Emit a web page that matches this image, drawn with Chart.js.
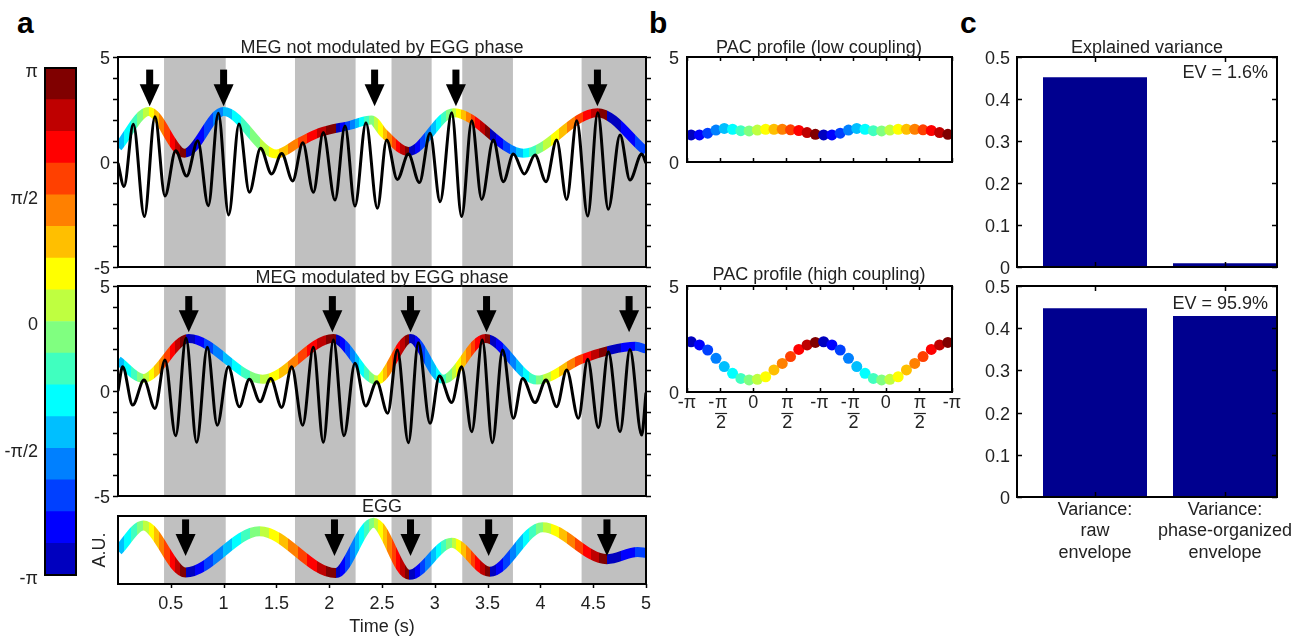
<!DOCTYPE html>
<html>
<head>
<meta charset="utf-8">
<title>EGG phase / MEG amplitude coupling</title>
<script src="https://cdn.jsdelivr.net/npm/chart.js@4.4.1/dist/chart.umd.min.js"></script>
<style>
  body { margin: 0; width: 1309px; height: 637px; position: relative; overflow: hidden; background: #fff;
         font-family: "Liberation Sans", Arial, sans-serif; color: #222; }
  canvas { position: absolute; }
  .label { position: absolute; font-size: 18px; line-height: 18px; white-space: nowrap; }
  .center { transform: translateX(-50%); }
  .right { transform: translateX(-100%); }
  .panel { position: absolute; font-size: 30px; line-height: 30px; font-weight: bold; color: #000; }
</style>
</head>
<body>
<canvas id="colorbar" width="86" height="531" style="left:0px;top:56px"></canvas>
<canvas id="megFlat" width="580" height="234" style="left:78px;top:45px"></canvas>
<canvas id="megCoupled" width="580" height="234" style="left:78px;top:274px"></canvas>
<canvas id="egg" width="580" height="134" style="left:78px;top:504px"></canvas>
<canvas id="pacLow" width="307" height="129" style="left:657px;top:45px"></canvas>
<canvas id="pacHigh" width="307" height="162" style="left:657px;top:274px"></canvas>
<canvas id="varLow" width="340" height="234" style="left:967px;top:45px"></canvas>
<canvas id="varHigh" width="340" height="303" style="left:967px;top:274px"></canvas>

<div class="panel" style="left:17px;top:8px">a</div>
<div class="panel" style="left:649px;top:8px">b</div>
<div class="panel" style="left:960px;top:8px">c</div>
<div class="label center" style="left:382px;top:38px">MEG not modulated by EGG phase</div>
<div class="label center" style="left:382px;top:268px">MEG modulated by EGG phase</div>
<div class="label center" style="left:382px;top:497px">EGG</div>
<div class="label center" style="left:819px;top:38px">PAC profile (low coupling)</div>
<div class="label center" style="left:819px;top:265px">PAC profile (high coupling)</div>
<div class="label center" style="left:1147px;top:38px">Explained variance</div>
<div class="label right" style="left:1268px;top:63px">EV = 1.6%</div>
<div class="label right" style="left:1268px;top:294px">EV = 95.9%</div>

<script>
const PI = Math.PI;

// jet colormap, 16 steps from -pi (dark blue) to pi (dark red)
const jet16 = ['#0000bf', '#0000ff', '#0040ff', '#0080ff', '#00bfff', '#00ffff', '#40ffbf', '#80ff80',
               '#bfff40', '#ffff00', '#ffbf00', '#ff8000', '#ff4000', '#ff0000', '#bf0000', '#800000'];
const phaseTickValues = [-PI, -PI / 2, 0, PI / 2, PI];
const phaseTickLabels = ['-π', '-π/2', '0', 'π/2', 'π'];

// MEG not modulated by EGG phase (black trace = extrema, envelope = coloured)
const flatTimes = [0, 0.057, 0.145, 0.25, 0.35, 0.445, 0.546, 0.65, 0.755, 0.855, 0.95, 1.048, 1.146, 1.244, 1.35, 1.455, 1.55, 1.654, 1.75, 1.85,
                   1.944, 2.055, 2.15, 2.244, 2.348, 2.456, 2.544, 2.645, 2.75, 2.854, 2.955, 3.05, 3.16, 3.254, 3.35, 3.444, 3.554, 3.649, 3.744, 3.848,
                   3.949, 4.053, 4.154, 4.249, 4.344, 4.448, 4.543, 4.643, 4.754, 4.848, 4.959, 5.0];
const flatValues = [-0.05, -1.17, 1.8, -2.6, 2.16, -1.62, 0.54, -0.67, 1.01, -2.08, 2.32, -2.52, 1.81, -1.44, 0.65, -0.57, 0.41, -0.9, 0.92, -1.44,
                    1.4, -1.81, 1.71, -2.1, 1.87, -2.2, 1.05, -0.83, 0.38, -0.98, 1.37, -1.89, 2.35, -2.6, 1.97, -1.78, 1.05, -0.94, 0.38, -0.57,
                    0.33, -0.94, 1.05, -1.78, 1.97, -2.57, 2.35, -2.25, 1.29, -0.86, 0.38, -0.05];
const flatEnvTimes = [0, 0.29, 0.63, 1.0, 1.5, 1.72, 1.91, 2.2, 2.4, 2.52, 2.75, 3.18, 3.84, 4.54, 5.0];
const flatEnvValues = [0.7, 2.4, 0.42, 2.4, 0.38, 0.95, 1.4, 1.75, 2.0, 1.35, 0.5, 2.35, 0.42, 2.35, 0.5];
const flatArrows = [0.3, 1.0, 2.43, 3.2, 4.54];

// MEG modulated by EGG phase
const coupledTimes = [0, 0.044, 0.139, 0.246, 0.35, 0.445, 0.546, 0.644, 0.745, 0.846, 0.94, 1.045, 1.149, 1.244, 1.345, 1.446, 1.55, 1.645, 1.749, 1.85,
                      1.944, 2.04, 2.14, 2.244, 2.345, 2.45, 2.554, 2.645, 2.75, 2.844, 2.955, 3.043, 3.16, 3.254, 3.35, 3.45, 3.545, 3.643, 3.744, 3.832,
                      3.949, 4.053, 4.154, 4.249, 4.36, 4.448, 4.549, 4.643, 4.754, 4.848, 4.959, 5.0];
const coupledValues = [0.0, 1.16, -0.67, 0.52, -0.83, 1.48, -2.13, 2.51, -2.44, 2.08, -1.63, 1.16, -0.75, 0.56, -0.51, 0.6, -0.78, 1.16, -1.63, 2.08,
                       -2.44, 2.43, -2.13, 1.32, -0.71, 0.44, -1.06, 1.95, -2.46, 2.3, -1.54, 0.71, -0.55, 1.16, -1.94, 2.43, -2.46, 1.95, -1.3, 0.6,
                       -0.55, 0.52, -0.75, 1.0, -1.3, 1.51, -1.75, 1.87, -1.94, 1.98, -2.1, -0.08];
const coupledEnvTimes = [0, 0.24, 0.67, 1.37, 2.04, 2.45, 2.77, 3.08, 3.48, 3.97, 4.38, 4.66, 4.9, 5.0];
const coupledEnvValues = [1.45, 0.6, 2.5, 0.56, 2.5, 0.52, 2.5, 0.56, 2.5, 0.52, 1.5, 1.95, 2.13, 2.0];
const coupledArrows = [0.67, 2.03, 2.77, 3.49, 4.84];

// EGG trace and its phase (in units of pi, unwrapped) at peaks / troughs
const eggTimes = [0, 0.24, 0.64, 1.34, 2.06, 2.42, 2.76, 3.16, 3.52, 4.02, 4.63, 4.92, 5.0];
const eggValues = [-0.02, 0.72, -0.66, 0.55, -0.68, 0.8, -0.73, 0.21, -0.64, 0.67, -0.27, -0.06, -0.08];
const phaseTimes = [0, 0.24, 0.64, 1.34, 2.06, 2.42, 2.76, 3.16, 3.52, 4.02, 4.63, 5.0];
const phaseTurns = [-0.5, 0, 1, 2, 3, 4, 5, 6, 7, 8, 9, 9.35];
const eggArrows = [0.64, 2.05, 2.77, 3.51, 4.63];
const eggTickValues = [0.5, 1, 1.5, 2, 2.5, 3, 3.5, 4, 4.5, 5];

// grey bands around EGG troughs
const bandStarts = [0.436, 1.676, 2.59, 3.26, 4.39];
const bandEnds = [1.02, 2.25, 2.97, 3.74, 5.0];

// PAC profiles, 16 phase bins (repeated for the second cycle)
const pacLowValues = [1.29, 1.29, 1.37, 1.52, 1.6, 1.56, 1.49, 1.48, 1.52, 1.56, 1.56, 1.56, 1.53, 1.5, 1.4, 1.32];
const pacHighValues = [2.37, 2.22, 1.98, 1.59, 1.2, 0.88, 0.64, 0.57, 0.6, 0.72, 1.04, 1.35, 1.67, 2.01, 2.22, 2.34];
const pacTickValues = [-PI, -PI / 2, 0, PI / 2, PI, 3 * PI / 2, 2 * PI, 5 * PI / 2, 3 * PI];
const pacTickLabels = ['-π', '-π/2', '0', 'π/2', '-π', '-π/2', '0', 'π/2', '-π'];

// explained variance
const varianceLabels = [['Variance:', 'raw', 'envelope'], ['Variance:', 'phase-organized', 'envelope']];
const varianceLow = [0.452, 0.0088];
const varianceHigh = [0.447, 0.429];

Chart.defaults.font.family = '"Liberation Sans", Arial, sans-serif';
Chart.defaults.font.size = 18;
Chart.defaults.color = '#222';

function points(xs, ys)
{
    return xs.map((x, i) => ({x: x, y: ys[i]}));
}

// pin an axis to a fixed size and stop its labels from pushing the plot area
function fixSize(w, h)
{
    return s =>
    {
        if(w !== null) s.width = w;
        if(h !== null) s.height = h;
        s.paddingTop = 0;
        s.paddingBottom = 0;
        s.paddingLeft = 0;
        s.paddingRight = 0;
    };
}

function phaseAt(t)
{
    for(let i = 0; i < phaseTimes.length - 1; i++)
    {
        if(t <= phaseTimes[i + 1])
        {
            const f = (t - phaseTimes[i]) / (phaseTimes[i + 1] - phaseTimes[i]);
            return phaseTurns[i] + f * (phaseTurns[i + 1] - phaseTurns[i]);
        }
    }
    return phaseTurns[phaseTurns.length - 1];
}

function levelColor(p)
{
    const w = ((p + 1) % 2 + 2) % 2;
    return jet16[Math.min(15, Math.floor(w * 8))];
}

// stepped jet gradient along time, coloured by EGG phase
function phaseGradient(context)
{
    const chart = context.chart;
    const xs = chart.scales.x;
    if(!chart.chartArea || !xs)
    {
        return '#888';
    }
    const t0 = xs.min, t1 = xs.max;
    const g = chart.ctx.createLinearGradient(xs.getPixelForValue(t0), 0, xs.getPixelForValue(t1), 0);
    const cuts = [t0, t1];
    for(let i = 0; i < phaseTimes.length - 1; i++)
    {
        const pa = phaseTurns[i], pb = phaseTurns[i + 1];
        for(let m = Math.ceil(pa * 8); m <= Math.floor(pb * 8); m++)
        {
            cuts.push(phaseTimes[i] + (m / 8 - pa) / (pb - pa) * (phaseTimes[i + 1] - phaseTimes[i]));
        }
    }
    cuts.sort((a, b) => a - b);
    const pos = t => Math.min(1, Math.max(0, (t - t0) / (t1 - t0)));
    for(let j = 0; j < cuts.length - 1; j++)
    {
        if(cuts[j + 1] - cuts[j] < 1e-6) continue;
        const c = levelColor(phaseAt((cuts[j] + cuts[j + 1]) / 2));
        g.addColorStop(pos(cuts[j]), c);
        g.addColorStop(pos(cuts[j + 1]), c);
    }
    return g;
}

const framePlugin =
{
    id: 'frame',
    afterDraw(chart, args, opts)
    {
        const {ctx, chartArea: a, scales} = chart;
        ctx.save();
        ctx.strokeStyle = '#000';
        ctx.lineWidth = 2;
        ctx.strokeRect(a.left, a.top, a.right - a.left, a.bottom - a.top);
        const s = opts.dir === 'in' ? 1 : -1;
        const len = opts.len || 5;
        ctx.lineWidth = 1.5;
        ctx.beginPath();
        (opts.yTicks || []).forEach(v =>
        {
            const y = Math.round(scales.y.getPixelForValue(v)) + 0.5;
            ctx.moveTo(a.left, y); ctx.lineTo(a.left + s * len, y);
            ctx.moveTo(a.right, y); ctx.lineTo(a.right - s * len, y);
        });
        (opts.xTicks || []).forEach(v =>
        {
            const x = Math.round(scales.x.getPixelForValue(v)) + 0.5;
            ctx.moveTo(x, a.bottom); ctx.lineTo(x, a.bottom - s * len);
            if(!opts.bottomOnly)
            {
                ctx.moveTo(x, a.top); ctx.lineTo(x, a.top + s * len);
            }
        });
        ctx.stroke();
        ctx.restore();
    }
};

const bandsPlugin =
{
    id: 'bands',
    beforeDatasetsDraw(chart)
    {
        const {ctx, chartArea: a, scales: {x}} = chart;
        ctx.save();
        ctx.fillStyle = '#c0c0c0';
        bandStarts.forEach((s, i) =>
        {
            const x0 = x.getPixelForValue(s), x1 = x.getPixelForValue(bandEnds[i]);
            ctx.fillRect(x0, a.top, x1 - x0, a.bottom - a.top);
        });
        ctx.restore();
    }
};

const arrowsPlugin =
{
    id: 'arrows',
    afterDatasetsDraw(chart, args, opts)
    {
        const {ctx, scales: {x, y}} = chart;
        ctx.save();
        ctx.fillStyle = '#000';
        opts.times.forEach(t =>
        {
            const px = x.getPixelForValue(t);
            const tip = y.getPixelForValue(opts.tip);
            const tail = y.getPixelForValue(opts.tail);
            const neck = tip - 22;
            ctx.fillRect(px - 3.5, tail, 7, neck - tail + 1);
            ctx.beginPath();
            ctx.moveTo(px - 10, neck);
            ctx.lineTo(px + 10, neck);
            ctx.lineTo(px, tip);
            ctx.closePath();
            ctx.fill();
        });
        ctx.restore();
    }
};

const fracLabelPlugin =
{
    id: 'fracLabels',
    afterDraw(chart)
    {
        const {ctx, chartArea: a, scales: {x}} = chart;
        ctx.save();
        ctx.fillStyle = '#222';
        ctx.strokeStyle = '#222';
        ctx.lineWidth = 1.2;
        ctx.font = '18px "Liberation Sans", Arial, sans-serif';
        ctx.textAlign = 'center';
        ctx.textBaseline = 'middle';
        pacTickValues.forEach((v, i) =>
        {
            const lab = pacTickLabels[i];
            const px = x.getPixelForValue(v);
            const neg = lab.startsWith('-');
            const body = neg ? lab.slice(1) : lab;
            if(body.includes('/'))
            {
                const parts = body.split('/');
                ctx.fillText(parts[0], px + 1, a.bottom + 11);
                ctx.beginPath();
                ctx.moveTo(px - 5, a.bottom + 21.5);
                ctx.lineTo(px + 7, a.bottom + 21.5);
                ctx.stroke();
                ctx.fillText(parts[1], px + 1, a.bottom + 31);
                if(neg) ctx.fillText('-', px - 9, a.bottom + 11);
            }
            else
            {
                ctx.fillText(lab, px, a.bottom + 11);
            }
        });
        ctx.restore();
    }
};

const hiddenGrid = {display: false, drawTicks: false};
const noBorder = {display: false};

function megConfig(times, values, envTimes, envValues, arrowTimes, tip, tail)
{
    return {
        type: 'line',
        data:
        {
            datasets:
            [
                {
                    data: points(times, values),
                    borderColor: '#000',
                    borderWidth: 3,
                    pointRadius: 0,
                    cubicInterpolationMode: 'monotone',
                    clip: 0,
                },
                {
                    data: points(envTimes, envValues),
                    borderColor: phaseGradient,
                    borderWidth: 9,
                    pointRadius: 0,
                    cubicInterpolationMode: 'monotone',
                    clip: 0,
                }
            ]
        },
        options:
        {
            responsive: false,
            animation: false,
            events: [],
            layout: {padding: {top: 12, right: 12, bottom: 12, left: 0}},
            plugins:
            {
                legend: {display: false},
                tooltip: {enabled: false},
                frame: {yTicks: [-5, -4, -3, -2, -1, 0, 1, 2, 3, 4, 5], dir: 'out', len: 5},
                arrows: {times: arrowTimes, tip: tip, tail: tail},
            },
            scales:
            {
                x: {type: 'linear', min: 0, max: 5, display: false},
                y:
                {
                    min: -5, max: 5,
                    grid: hiddenGrid, border: noBorder,
                    afterBuildTicks: s => { s.ticks = [{value: -5}, {value: 0}, {value: 5}]; },
                    ticks: {padding: 8, labelOffset: 2},
                    afterFit: fixSize(40, null),
                }
            }
        },
        plugins: [bandsPlugin, arrowsPlugin, framePlugin]
    };
}

// colour bar
new Chart(document.getElementById('colorbar'),
{
    type: 'bar',
    data:
    {
        labels: [''],
        datasets: jet16.map((c, i) => ({
            data: [[-PI + i * PI / 8, -PI + (i + 1) * PI / 8]],
            backgroundColor: c,
            borderWidth: 0,
            grouped: false,
            barPercentage: 1,
            categoryPercentage: 1,
        }))
    },
    options:
    {
        responsive: false,
        animation: false,
        events: [],
        layout: {padding: {top: 12, right: 10, bottom: 12, left: 0}},
        plugins: {legend: {display: false}, tooltip: {enabled: false}, frame: {}},
        scales:
        {
            x: {display: false},
            y:
            {
                min: -PI, max: PI,
                grid: hiddenGrid, border: noBorder,
                afterBuildTicks: s => { s.ticks = phaseTickValues.map(v => ({value: v})); },
                ticks: {padding: 7, labelOffset: 4, callback: (v, i) => phaseTickLabels[i]},
                afterFit: fixSize(45, null),
            }
        }
    },
    plugins: [framePlugin]
});

new Chart(document.getElementById('megFlat'), megConfig(flatTimes, flatValues, flatEnvTimes, flatEnvValues, flatArrows, 2.65, 4.4));
new Chart(document.getElementById('megCoupled'), megConfig(coupledTimes, coupledValues, coupledEnvTimes, coupledEnvValues, coupledArrows, 2.8, 4.52));

// EGG
new Chart(document.getElementById('egg'),
{
    type: 'line',
    data:
    {
        datasets:
        [
            {
                data: points(eggTimes, eggValues),
                borderColor: phaseGradient,
                borderWidth: 10,
                pointRadius: 0,
                cubicInterpolationMode: 'monotone',
                clip: 0,
            }
        ]
    },
    options:
    {
        responsive: false,
        animation: false,
        events: [],
        layout: {padding: {top: 12, right: 12, bottom: 0, left: 0}},
        plugins:
        {
            legend: {display: false},
            tooltip: {enabled: false},
            frame: {xTicks: eggTickValues, dir: 'out', len: 4, bottomOnly: true},
            arrows: {times: eggArrows, tip: -0.18, tail: 0.9},
        },
        scales:
        {
            x:
            {
                type: 'linear', min: 0, max: 5,
                grid: hiddenGrid, border: noBorder,
                afterBuildTicks: s => { s.ticks = eggTickValues.map(v => ({value: v})); },
                ticks: {padding: 9, autoSkip: false, maxRotation: 0, callback: v => String(v)},
                title: {display: true, text: 'Time (s)', padding: {top: 0, bottom: 0}},
                afterFit: fixSize(null, 54),
            },
            y:
            {
                min: -1, max: 1,
                grid: hiddenGrid, border: noBorder,
                ticks: {display: false},
                title: {display: true, text: 'A.U.', padding: {top: 11, bottom: 0}},
                afterFit: fixSize(40, null),
            }
        }
    },
    plugins: [bandsPlugin, arrowsPlugin, framePlugin]
});

// PAC profiles
const pacBinCentres = [-15, -13, -11, -9, -7, -5, -3, -1, 1, 3, 5, 7, 9, 11, 13, 15].map(k => k * PI / 16);

function pacConfig(values, bottomPad, extraPlugins)
{
    const xs = pacBinCentres.concat(pacBinCentres.map(p => p + 2 * PI));
    const ys = values.concat(values);
    return {
        type: 'scatter',
        data:
        {
            datasets:
            [
                {
                    data: points(xs, ys),
                    pointRadius: 5.5,
                    pointBorderWidth: 0,
                    pointBackgroundColor: jet16.concat(jet16),
                    clip: 0,
                }
            ]
        },
        options:
        {
            responsive: false,
            animation: false,
            events: [],
            layout: {padding: {top: 12, right: 12, bottom: bottomPad, left: 0}},
            plugins:
            {
                legend: {display: false},
                tooltip: {enabled: false},
                frame: {xTicks: pacTickValues, dir: 'in', len: 4},
            },
            scales:
            {
                x: {type: 'linear', min: -PI, max: 3 * PI, display: false},
                y:
                {
                    min: 0, max: 5,
                    grid: hiddenGrid, border: noBorder,
                    afterBuildTicks: s => { s.ticks = [{value: 0}, {value: 5}]; },
                    ticks: {padding: 8, labelOffset: 2},
                    afterFit: fixSize(30, null),
                }
            }
        },
        plugins: [framePlugin].concat(extraPlugins)
    };
}

new Chart(document.getElementById('pacLow'), pacConfig(pacLowValues, 12, []));
new Chart(document.getElementById('pacHigh'), pacConfig(pacHighValues, 44, [fracLabelPlugin]));

// explained variance bars
function varianceConfig(values, showLabels)
{
    return {
        type: 'bar',
        data:
        {
            datasets:
            [
                {
                    data: points([1, 2], values),
                    backgroundColor: 'rgb(0, 0, 143)',
                    borderWidth: 0,
                    barPercentage: 0.8,
                    categoryPercentage: 1,
                }
            ]
        },
        options:
        {
            responsive: false,
            animation: false,
            events: [],
            layout: {padding: {top: 12, right: 30, bottom: showLabels ? 0 : 12, left: 0}},
            plugins:
            {
                legend: {display: false},
                tooltip: {enabled: false},
                frame: {yTicks: [0, 0.1, 0.2, 0.3, 0.4, 0.5], xTicks: [1, 2], dir: 'in', len: 5},
            },
            scales:
            {
                x:
                {
                    type: 'linear', min: 0.4, max: 2.4, offset: false,
                    display: showLabels,
                    grid: hiddenGrid, border: noBorder,
                    afterBuildTicks: s => { s.ticks = [{value: 1}, {value: 2}]; },
                    ticks: {padding: 2, autoSkip: false, maxRotation: 0, callback: (v, i) => varianceLabels[i]},
                    afterFit: fixSize(null, showLabels ? 80 : 0),
                },
                y:
                {
                    min: 0, max: 0.5,
                    grid: hiddenGrid, border: noBorder,
                    ticks: {stepSize: 0.1, padding: 7, labelOffset: 2},
                    afterFit: fixSize(50, null),
                }
            }
        },
        plugins: [framePlugin]
    };
}

new Chart(document.getElementById('varLow'), varianceConfig(varianceLow, false));
new Chart(document.getElementById('varHigh'), varianceConfig(varianceHigh, true));
</script>
</body>
</html>
